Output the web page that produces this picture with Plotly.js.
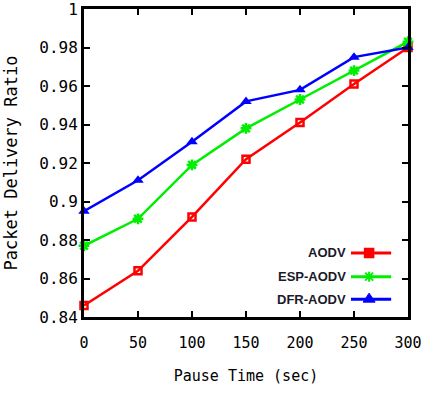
<!DOCTYPE html>
<html>
<head>
<meta charset="utf-8">
<script src="https://cdn.plot.ly/plotly-3.0.1.min.js"></script>
<style>
  html, body { margin: 0; padding: 0; background: #ffffff; }
  #chart { width: 431px; height: 402px; }
</style>
</head>
<body>
<div id="chart"></div>
<script>
// Pause time (sec) on the x axis
const pauseTime = [0, 50, 100, 150, 200, 250, 300];

// Packet delivery ratio for each protocol
const aodv    = [0.846, 0.864, 0.892, 0.922, 0.941, 0.961, 0.980];
const espAodv = [0.877, 0.891, 0.919, 0.938, 0.953, 0.968, 0.983];
const dfrAodv = [0.895, 0.911, 0.931, 0.952, 0.958, 0.975, 0.980];

const seriesNames = ['AODV', 'ESP-AODV', 'DFR-AODV'];
const yTickVals = [0.84, 0.86, 0.88, 0.90, 0.92, 0.94, 0.96, 0.98, 1.00];
const yTickText = ['0.84', '0.86', '0.88', '0.9', '0.92', '0.94', '0.96', '0.98', '1'];
const xTickVals = [0, 50, 100, 150, 200, 250, 300];

const RED = '#ff0000', GREEN = '#00ee00', BLUE = '#0000ff';

const traces = [
  {
    x: pauseTime, y: aodv, name: seriesNames[0], type: 'scatter', mode: 'lines+markers',
    line: { color: RED, width: 2.5 },
    marker: { symbol: 'square-open', size: 7, color: RED, line: { width: 2.5, color: RED } },
    cliponaxis: false
  },
  {
    x: pauseTime, y: espAodv, name: seriesNames[1], type: 'scatter', mode: 'lines+markers',
    line: { color: GREEN, width: 2.5 },
    marker: { symbol: 'asterisk-open', size: 9, color: GREEN, line: { width: 2.5, color: GREEN } },
    cliponaxis: false
  },
  {
    x: pauseTime, y: dfrAodv, name: seriesNames[2], type: 'scatter', mode: 'lines+markers',
    line: { color: BLUE, width: 2.5 },
    marker: { symbol: 'triangle-up', size: 10, color: BLUE },
    cliponaxis: false
  }
];

// Hand-built key in the lower right of the plot: label on the left, sample on the right
const keyRows = [0.208, 0.131, 0.058];
const keyColors = [RED, GREEN, BLUE];
const keyTextX = 0.815, keyLine0 = 0.824, keyLine1 = 0.948, keyMid = 0.88;
const shapes = [];
const annotations = [];
keyRows.forEach((ry, i) => {
  const c = keyColors[i];
  shapes.push({ type: 'line', xref: 'paper', yref: 'paper', x0: keyLine0, x1: keyLine1, y0: ry, y1: ry,
                line: { color: c, width: 3 } });
  annotations.push({ xref: 'paper', yref: 'paper', x: keyTextX, y: ry, xanchor: 'right', yanchor: 'middle',
                     text: '<b>' + seriesNames[i] + '</b>', showarrow: false,
                     font: { family: 'Liberation Sans Narrow, Liberation Sans, sans-serif', size: 13, color: '#1a1a2a' } });
});
// key symbols, sized in pixels around the centre of each sample line
shapes.push({ type: 'rect', xref: 'paper', yref: 'paper', xsizemode: 'pixel', ysizemode: 'pixel',
              xanchor: keyMid, yanchor: keyRows[0], x0: -4, x1: 4, y0: -4, y1: 4,
              line: { color: RED, width: 2.5 }, fillcolor: RED });
[[-5, 0, 5, 0], [0, -5, 0, 5], [-4, -4, 4, 4], [-4, 4, 4, -4]].forEach(s => {
  shapes.push({ type: 'line', xref: 'paper', yref: 'paper', xsizemode: 'pixel', ysizemode: 'pixel',
                xanchor: keyMid, yanchor: keyRows[1], x0: s[0], y0: s[1], x1: s[2], y1: s[3],
                line: { color: GREEN, width: 2 } });
});
shapes.push({ type: 'path', xref: 'paper', yref: 'paper', xsizemode: 'pixel', ysizemode: 'pixel',
              xanchor: keyMid, yanchor: keyRows[2], path: 'M -6 -3 L 6 -3 L 0 6 Z',
              line: { color: BLUE, width: 1 }, fillcolor: BLUE });

const axisFont = { family: 'DejaVu Sans Mono, monospace', size: 16, color: '#000000' };

const layout = {
  width: 431, height: 402,
  margin: { l: 84, r: 23, t: 9, b: 85 },
  paper_bgcolor: '#ffffff', plot_bgcolor: '#ffffff',
  showlegend: false,
  xaxis: {
    range: [0, 300], tickvals: xTickVals, ticks: 'inside', ticklen: 6, tickwidth: 2, tickcolor: '#000',
    showline: true, linecolor: '#000', linewidth: 3, mirror: 'ticks', showgrid: false, zeroline: false,
    tickfont: { family: 'DejaVu Sans Mono, monospace', size: 15, color: '#000' }, ticklabelstandoff: 10,
    ticklabeloverflow: 'allow',
    title: { text: 'Pause Time (sec)', font: { family: 'DejaVu Sans Mono, monospace', size: 15, color: '#000' }, standoff: 20 }
  },
  yaxis: {
    range: [0.84, 1.0], tickvals: yTickVals, ticktext: yTickText, ticks: 'inside', ticklen: 6, tickwidth: 2, tickcolor: '#000',
    showline: true, linecolor: '#000', linewidth: 3, mirror: 'ticks', showgrid: false, zeroline: false,
    tickfont: axisFont, ticklabeloverflow: 'allow',
    title: { text: 'Packet Delivery Ratio', font: { family: 'DejaVu Sans Mono, monospace', size: 17, color: '#000' }, standoff: 18 }
  },
  shapes: shapes,
  annotations: annotations
};

Plotly.newPlot('chart', traces, layout, { staticPlot: true, displayModeBar: false });
</script>
</body>
</html>
